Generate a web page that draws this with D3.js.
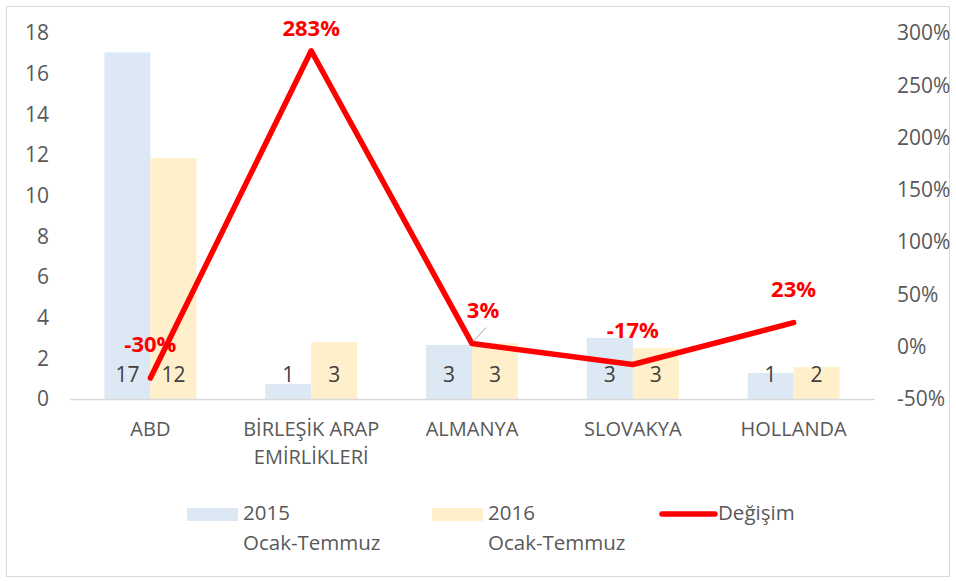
<!DOCTYPE html>
<html><head><meta charset="utf-8">
<script src="https://cdn.jsdelivr.net/npm/d3@7"></script>
<style>
html,body{margin:0;padding:0;background:#fff;}
svg text{font-family:"Open Sans",Lato,sans-serif;}
</style></head>
<body><svg id="c" width="956" height="581"></svg>
<script>
const categories = ["ABD", "BİRLEŞİK ARAP EMİRLİKLERİ", "ALMANYA", "SLOVAKYA", "HOLLANDA"];
const values2015 = [17.05, 0.73, 2.66, 3.0, 1.28];
const values2016 = [11.85, 2.8, 2.75, 2.5, 1.57];
const changePct = [-30, 283, 3, -17, 23];
const leftTicks = [0, 2, 4, 6, 8, 10, 12, 14, 16, 18];
const rightTicks = [-50, 0, 50, 100, 150, 200, 250, 300];
const seriesNames = ["2015\nOcak-Temmuz", "2016\nOcak-Temmuz", "Değişim"];

const svg = d3.select("#c");
const plot = {left: 70, right: 874, top: 33, bottom: 399};

svg.append("rect").attr("x", 6.5).attr("y", 6.5).attr("width", 943).attr("height", 570)
  .attr("fill", "#fff").attr("stroke", "#d9d9d9").attr("stroke-width", 1);

const x = d3.scaleBand().domain(categories).range([plot.left, plot.right])
  .paddingInner(0.428).paddingOuter(0.214);
const xs = d3.scaleBand().domain(["2015", "2016"]).range([0, x.bandwidth()]);
const yL = d3.scaleLinear().domain([0, 18]).range([plot.bottom, plot.top]);
const yR = d3.scaleLinear().domain([-50, 300]).range([plot.bottom, plot.top]);

const tickColor = "#595959";
const axL = svg.append("g").attr("transform", `translate(${plot.left - 21},0)`)
  .call(d3.axisLeft(yL).tickValues(leftTicks).tickSize(0).tickPadding(0).tickFormat(d3.format("d")));
axL.select(".domain").remove();
axL.selectAll("text").attr("fill", tickColor).style("font-size", "21px");
const axR = svg.append("g").attr("transform", `translate(${plot.right + 23},0)`)
  .call(d3.axisRight(yR).tickValues(rightTicks).tickSize(0).tickPadding(0).tickFormat(d => d + "%"));
axR.select(".domain").remove();
axR.selectAll("text").attr("fill", tickColor).style("font-size", "21px");

const series = [
  {key: "2015", vals: values2015, color: "#dde8f5"},
  {key: "2016", vals: values2016, color: "#fff0cb"}
];
series.forEach(s => {
  svg.append("g").selectAll("rect").data(categories).join("rect")
    .attr("x", d => x(d) + xs(s.key))
    .attr("y", (d, i) => yL(s.vals[i]))
    .attr("width", xs.bandwidth())
    .attr("height", (d, i) => yL(0) - yL(s.vals[i]))
    .attr("fill", s.color);
});

svg.append("line").attr("x1", plot.left).attr("x2", plot.right + 1)
  .attr("y1", yL(0) + 0.5).attr("y2", yL(0) + 0.5).attr("stroke", "#d9d9d9").attr("stroke-width", 1.5);

series.forEach(s => {
  svg.append("g").selectAll("text").data(categories).join("text")
    .attr("x", d => x(d) + xs(s.key) + xs.bandwidth() / 2)
    .attr("y", yL(0) - 25)
    .attr("text-anchor", "middle").attr("dominant-baseline", "central")
    .attr("fill", "#404040").style("font-size", "21px")
    .text((d, i) => Math.round(s.vals[i]));
});

const catG = svg.append("g");
categories.forEach(c => {
  const cxp = x(c) + x.bandwidth() / 2;
  const t = catG.append("text").attr("x", cxp).attr("y", 436)
    .attr("text-anchor", "middle").attr("fill", tickColor).style("font-size", "20px");
  const words = c.split(" ");
  let line = [];
  let ts = t.append("tspan").attr("x", cxp).attr("dy", 0);
  words.forEach(w => {
    line.push(w);
    ts.text(line.join(" "));
    if (ts.node().getComputedTextLength() > 175 && line.length > 1) {
      line.pop(); ts.text(line.join(" "));
      line = [w];
      ts = t.append("tspan").attr("x", cxp).attr("dy", 28).text(w);
    }
  });
});

const cx = c => x(c) + x.bandwidth() / 2;
const lineGen = d3.line().x((d, i) => cx(categories[i])).y(d => yR(d));
svg.append("path").datum(changePct).attr("d", lineGen)
  .attr("fill", "none").attr("stroke", "#ff0000").attr("stroke-width", 5.5)
  .attr("stroke-linejoin", "round").attr("stroke-linecap", "round");

const pctG = svg.append("g");
changePct.forEach((v, i) => {
  const px = cx(categories[i]), py = yR(v);
  let lx = px, ly = Math.max(py - 35, 27);
  if (i === 2) {
    lx = px + 11;
    pctG.append("line").attr("x1", px + 1).attr("y1", py - 2).attr("x2", px + 14).attr("y2", py - 16)
      .attr("stroke", "#a6a6a6").attr("stroke-width", 1);
  }
  pctG.append("text").attr("x", lx).attr("y", ly)
    .attr("text-anchor", "middle").attr("dominant-baseline", "central")
    .attr("fill", "#ff0000").style("font-size", "22px").style("font-weight", "bold")
    .text(v + "%");
});

const leg = svg.append("g");
const legX = [187, 432, 660];
[0, 1].forEach(i => {
  leg.append("rect").attr("x", legX[i]).attr("y", 508).attr("width", 51).attr("height", 13)
    .attr("fill", series[i].color);
  seriesNames[i].split("\n").forEach((l, k) => {
    leg.append("text").attr("x", legX[i] + 56).attr("y", 512 + k * 30)
      .attr("dominant-baseline", "central").attr("fill", tickColor).style("font-size", "20.5px").text(l);
  });
});
leg.append("line").attr("x1", legX[2] + 2).attr("x2", legX[2] + 55).attr("y1", 514).attr("y2", 514)
  .attr("stroke", "#ff0000").attr("stroke-width", 5.5).attr("stroke-linecap", "round");
leg.append("text").attr("x", legX[2] + 58).attr("y", 512).attr("dominant-baseline", "central")
  .attr("fill", tickColor).style("font-size", "20.5px").text(seriesNames[2]);
</script></body></html>
